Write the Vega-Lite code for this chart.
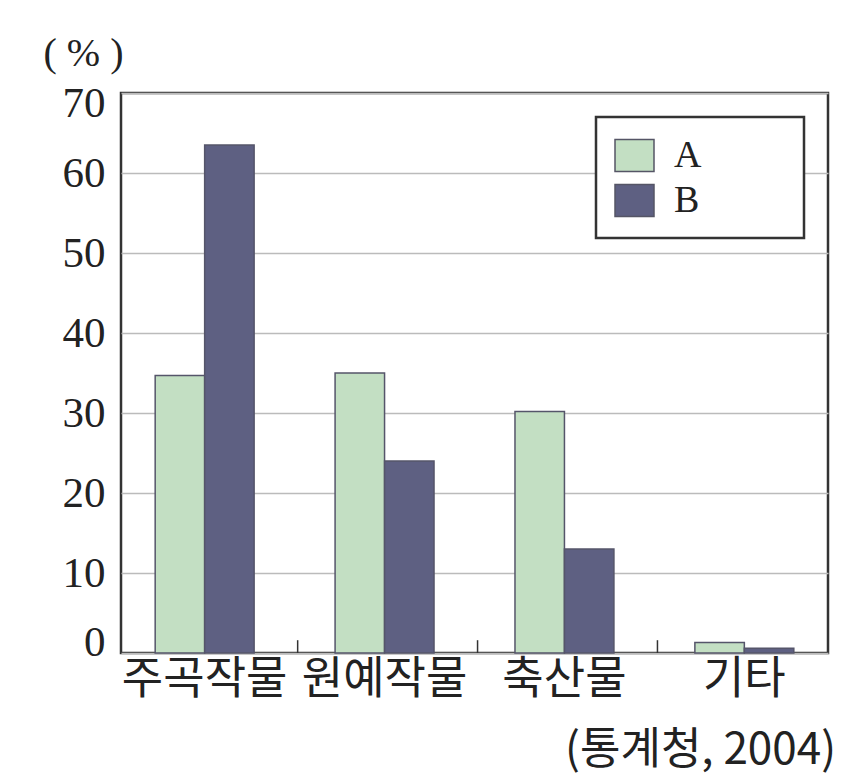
{
  "$schema": "https://vega.github.io/schema/vega-lite/v6.json",
  "width": 707,
  "height": 560,
  "autosize": {"type": "none"},
  "padding": {"left": 121, "top": 93, "right": 29, "bottom": 124},
  "background": "white",
  "title": {
    "text": "(통계청, 2004)",
    "orient": "bottom",
    "anchor": "end",
    "font": "Noto Sans CJK KR",
    "fontSize": 44,
    "fontWeight": "normal",
    "color": "#222222",
    "offset": 27,
    "dx": 8
  },
  "config": {
    "view": {"stroke": "#333333", "strokeWidth": 2.5},
    "axis": {"domain": false},
    "legend": {"strokeWidth": 2.5}
  },
  "layer": [
    {
      "data": {
        "values": [
          {"category": "주곡작물", "group": "A", "value": 34.7},
          {"category": "주곡작물", "group": "B", "value": 63.5},
          {"category": "원예작물", "group": "A", "value": 35.0},
          {"category": "원예작물", "group": "B", "value": 24.0},
          {"category": "축산물", "group": "A", "value": 30.2},
          {"category": "축산물", "group": "B", "value": 13.0},
          {"category": "기타", "group": "A", "value": 1.3},
          {"category": "기타", "group": "B", "value": 0.6}
        ]
      },
      "mark": {"type": "bar", "stroke": "#55556a", "strokeWidth": 1.5},
      "encoding": {
        "x": {
          "field": "category",
          "type": "nominal",
          "scale": {"domain": ["주곡작물", "원예작물", "축산물", "기타"], "paddingInner": 0.45, "paddingOuter": 0.19},
          "axis": {
            "title": null,
            "ticks": false,
            "labelAngle": 0,
            "labelFont": "Noto Sans CJK KR",
            "labelFontSize": 45,
            "labelColor": "#222222",
            "labelPadding": 4,
            "grid": false
          }
        },
        "xOffset": {"field": "group", "type": "nominal"},
        "y": {
          "field": "value",
          "type": "quantitative",
          "scale": {"domain": [0, 70], "nice": false},
          "axis": {
            "title": "( % )",
            "titleAngle": 0,
            "titleX": -38,
            "titleY": -40,
            "titleAlign": "center",
            "titleBaseline": "middle",
            "titleFont": "Liberation Serif",
            "titleFontSize": 40,
            "titleFontWeight": "normal",
            "titleColor": "#222222",
            "values": [0, 10, 20, 30, 40, 50, 60, 70],
            "ticks": false,
            "labelFont": "Liberation Serif",
            "labelFontSize": 43,
            "labelColor": "#222222",
            "labelPadding": 16,
            "labelFlush": true,
            "labelFlushOffset": 11,
            "grid": true,
            "gridColor": "#bbbbbb",
            "gridWidth": 1.5
          }
        },
        "color": {
          "field": "group",
          "type": "nominal",
          "scale": {"domain": ["A", "B"], "range": ["#c3dfc3", "#5e6082"]},
          "legend": {
            "title": null,
            "orient": "top-right",
            "offset": 24,
            "fillColor": "white",
            "strokeColor": "#333333",
            "padding": 18,
            "cornerRadius": 0,
            "symbolType": "M-1,-0.82H1V0.82H-1Z",
            "symbolSize": 1521,
            "symbolStrokeColor": "#555566",
            "symbolStrokeWidth": 1.5,
            "symbolOpacity": 1,
            "labelFont": "Liberation Serif",
            "labelFontSize": 38,
            "labelColor": "#222222",
            "labelOffset": 19,
            "rowPadding": 5,
            "labelExpr": "datum.label + '\u2800\u2800\u2800'"
          }
        }
      }
    },
    {
      "data": {
        "values": [
          {"category": "주곡작물"},
          {"category": "원예작물"},
          {"category": "축산물"}
        ]
      },
      "mark": {"type": "rule", "color": "#333333", "strokeWidth": 1.5},
      "encoding": {
        "x": {"field": "category", "type": "nominal", "bandPosition": 1.44},
        "y": {"datum": 0},
        "y2": {"datum": 1.6}
      }
    }
  ]
}
